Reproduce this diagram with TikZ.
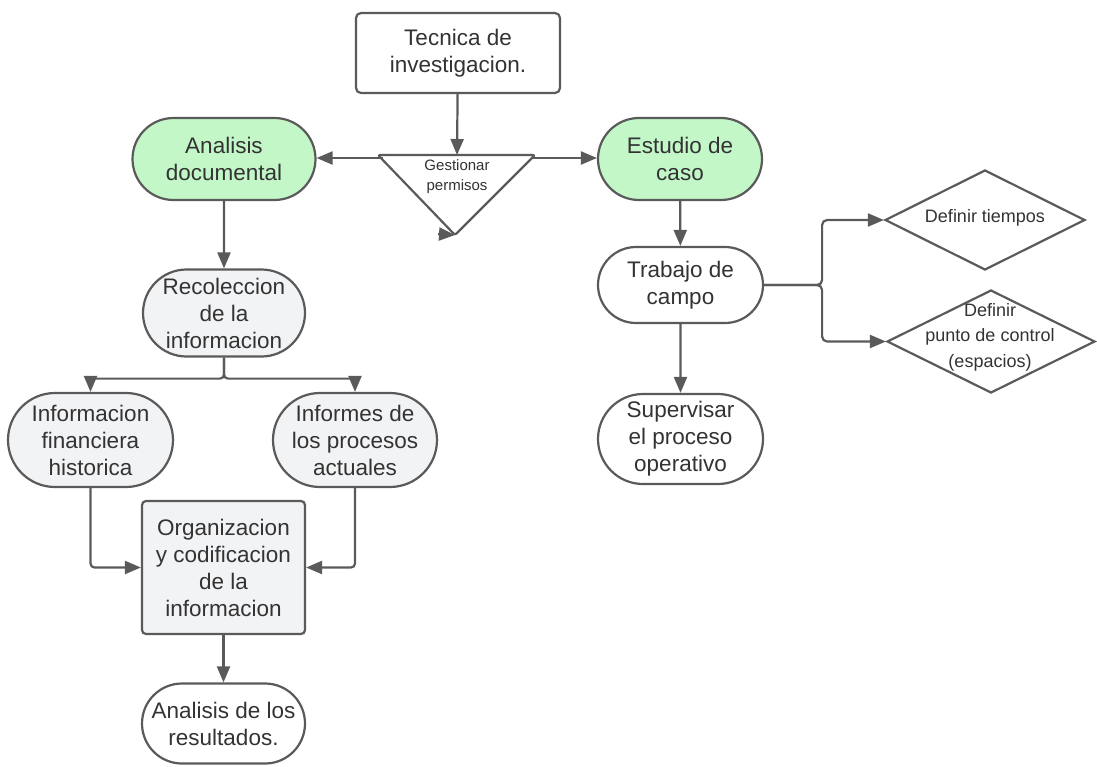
\documentclass[tikz,border=0pt]{standalone}
\usepackage{fontspec}
\setmainfont{Liberation Sans}
\usetikzlibrary{shapes.misc,shapes.geometric,arrows.meta}
\definecolor{ln}{HTML}{5A5A5A}
\definecolor{tx}{HTML}{333333}
\definecolor{grn}{HTML}{C3F7C8}
\definecolor{gry}{HTML}{F2F3F5}
\tikzset{
  base/.style={draw=ln, line width=2.2pt, text=tx, align=center, inner sep=0pt,
    font=\fontsize{22.5}{27}\selectfont},
  pill/.style={base, rounded rectangle},
  boxr/.style={base, rectangle, rounded corners=5pt},
  dia/.style={draw=ln, line width=2.2pt, diamond, fill=white, inner sep=0pt},
  dtext/.style={text=tx, align=center, inner sep=0pt, font=\fontsize{18}{25.5}\selectfont},
  arr/.style={draw=ln, line width=2.2pt, -{Triangle[length=16pt,width=13pt]}},
}
\begin{document}
\begin{tikzpicture}[x=1pt,y=-1pt]
\useasboundingbox (0,0) rectangle (1097,766);
% top
\node[boxr, fill=white, minimum width=204pt, minimum height=80pt] (tec) at (458,53) {Tecnica de\\investigacion.};
% triangle
\coordinate (gtop) at (457,155);
\coordinate (gl) at (383,158);
\coordinate (gr) at (531,158);
\coordinate (gtip) at (455,235);
\coordinate (gtipin) at (438,234);
\draw[draw=ln, line width=2.2pt, line join=round, fill=white, rounded corners=2pt] (378,155) -- (535,155) -- (gtip) -- cycle;
\node[text=tx, align=center, inner sep=0pt, font=\fontsize{15}{20}\selectfont] (gest) at (457,177) {Gestionar\\permisos};
% main nodes
\node[pill, fill=grn, minimum width=183pt, minimum height=82pt] (ad) at (224,159) {Analisis\\documental};
\node[pill, fill=grn, minimum width=164pt, minimum height=82pt] (ec) at (680,159) {Estudio de\\caso};
\node[pill, fill=gry, minimum width=162pt, minimum height=87pt] (rec) at (224,313) {Recoleccion\\de la\\informacion};
\node[pill, fill=gry, minimum width=165pt, minimum height=94pt] (ifh) at (90.5,440) {Informacion\\financiera\\historica};
\node[pill, fill=gry, minimum width=164pt, minimum height=94pt] (ipa) at (355,440) {Informes de\\los procesos\\actuales};
\node[boxr, rounded corners=4pt, fill=gry, minimum width=163pt, minimum height=133pt] (org) at (223.5,567.5) {Organizacion\\y codificacion\\de la\\informacion};
\node[pill, fill=white, minimum width=163pt, minimum height=80pt] (ar) at (223.5,723.5) {Analisis de los\\resultados.};
\node[pill, fill=white, minimum width=165pt, minimum height=76pt] (tc) at (680.5,285) {Trabajo de\\campo};
\node[pill, fill=white, minimum width=165pt, minimum height=90pt] (sup) at (680.5,439) {Supervisar\\el proceso\\operativo};
% diamonds
\node[dia, minimum width=200pt, minimum height=100pt] (d1) at (985,220) {};
\node[dtext] (d1t) at (985,218) {Definir tiempos};
\node[dia, minimum width=208pt, minimum height=103pt] (d2) at (991,341.5) {};
\node[dtext] (d2t) at (990,337) {Definir\\punto de control\\(espacios)};
% connectors
\draw[arr] (tec) -- (gtop);
\draw[arr] (gl) -- (gl -| ad.east);
\draw[arr] (gr) -- (gr -| ec.west);
\draw[arr] (gtipin) -- (gtip);
\draw[arr] (ad) -- (rec);
\draw[arr, rounded corners=4pt] (rec.south) -- ++(0,21) -| (ifh.north);
\draw[arr, rounded corners=4pt] (rec.south) -- ++(0,21) -| (ipa.north);
\draw[arr, rounded corners=4pt] (ifh.south) |- (org.west);
\draw[arr, rounded corners=4pt] (ipa.south) |- (org.east);
\draw[arr] (org) -- (ar);
\draw[arr] (ec) -- (tc);
\draw[arr] (tc) -- (sup);
\draw[arr, rounded corners=5pt] (tc.east) -- ++(58,0) |- (d1.west);
\draw[arr, rounded corners=5pt] (tc.east) -- ++(58,0) |- (d2.west);
\end{tikzpicture}
\end{document}
